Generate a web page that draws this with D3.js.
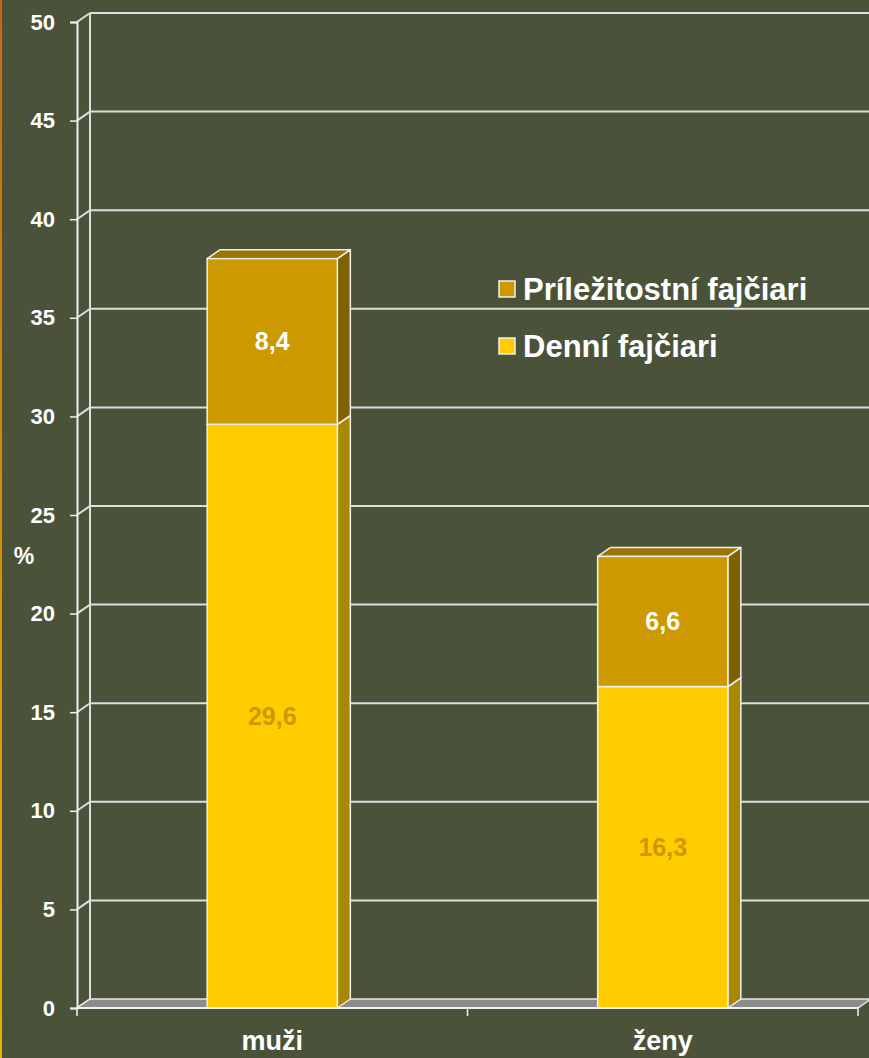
<!DOCTYPE html>
<html>
<head>
<meta charset="utf-8">
<script src="https://cdn.jsdelivr.net/npm/d3@7"></script>
<style>
  html, body { margin: 0; padding: 0; background: #4a533a; }
  svg { display: block; font-family: "Liberation Sans", Arial, sans-serif; }
</style>
</head>
<body>
<div id="chart"></div>
<script>
// chart values
const categories = ['muži', 'ženy'];
const dailySmokers = [29.6, 16.3];      // Denní fajčiari
const occasionalSmokers = [8.4, 6.6];   // Príležitostní fajčiari
const yTicks = [0, 5, 10, 15, 20, 25, 30, 35, 40, 45, 50];
const seriesNames = ['Denní fajčiari', 'Príležitostní fajčiari'];
const legendOrder = ['Príležitostní fajčiari', 'Denní fajčiari'];

const width = 869, height = 1058;
const depthX = 13, depthY = -9; // 3d offset of the back wall

const svg = d3.select('#chart').append('svg')
    .attr('width', width)
    .attr('height', height);

// orange stripe on the left edge
const grad = svg.append('defs').append('linearGradient')
    .attr('id', 'edge').attr('x1', 0).attr('y1', 0).attr('x2', 0).attr('y2', 1);
grad.append('stop').attr('offset', '0%').attr('stop-color', '#c86a10');
grad.append('stop').attr('offset', '100%').attr('stop-color', '#e8b000');
svg.append('rect').attr('x', 0).attr('y', 0).attr('width', 2).attr('height', height)
    .attr('fill', 'url(#edge)');

const yScale = d3.scaleLinear().domain([0, 50]).range([1008, 22]);
const xScale = d3.scaleBand().domain(categories).range([77, 858]).padding(0);
const bw = xScale.bandwidth() / 3;

const gridColor = '#dedede';

// back wall grid lines + side wall diagonals
const grid = svg.append('g');
yTicks.forEach(t => {
    const y = yScale(t);
    if (t > 0) {
        grid.append('line')
            .attr('x1', 77 + depthX).attr('x2', width + 5)
            .attr('y1', y + depthY).attr('y2', y + depthY)
            .attr('stroke', gridColor).attr('stroke-width', 2);
    }
    grid.append('line')
        .attr('x1', 77).attr('y1', y)
        .attr('x2', 77 + depthX).attr('y2', y + depthY)
        .attr('stroke', gridColor).attr('stroke-width', 2);
});
// back wall left edge
grid.append('line')
    .attr('x1', 77 + depthX).attr('x2', 77 + depthX)
    .attr('y1', yScale(50) + depthY).attr('y2', yScale(0) + depthY)
    .attr('stroke', gridColor).attr('stroke-width', 2);

// floor
const [fx0, fx1] = xScale.range();
const f0 = yScale(0);
svg.append('polygon')
    .attr('points', [[fx0, f0], [fx1, f0], [fx1 + depthX, f0 + depthY], [fx0 + depthX, f0 + depthY]].join(' '))
    .attr('fill', '#8c8c8c')
    .attr('stroke', '#e6e6e6').attr('stroke-width', 1.5);

// stacked bars
const rows = categories.map((c, i) => ({cat: c, 'Denní fajčiari': dailySmokers[i], 'Príležitostní fajčiari': occasionalSmokers[i]}));
const stack = d3.stack().keys(seriesNames)(rows);

const colors = {
    'Denní fajčiari': {front: '#ffcc00', side: '#a88800', top: '#c8a000', label: '#cc9900'},
    'Príležitostní fajčiari': {front: '#cc9900', side: '#7f6200', top: '#9a7500', label: '#ffffff'}
};

const bars = svg.append('g');
stack.forEach(layer => {
    const col = colors[layer.key];
    layer.forEach(d => {
        const x0 = xScale(d.data.cat) + bw;
        const x1 = x0 + bw;
        const yb = yScale(d[0]), yt = yScale(d[1]);
        const g = bars.append('g');
        // side face
        g.append('polygon')
            .attr('points', [[x1, yb], [x1, yt], [x1 + depthX, yt + depthY], [x1 + depthX, yb + depthY]].join(' '))
            .attr('fill', col.side).attr('stroke', '#f0f0f0').attr('stroke-width', 1.5)
            .attr('stroke-linejoin', 'round');
        // top face
        g.append('polygon')
            .attr('points', [[x0, yt], [x1, yt], [x1 + depthX, yt + depthY], [x0 + depthX, yt + depthY]].join(' '))
            .attr('fill', col.top).attr('stroke', '#f0f0f0').attr('stroke-width', 1.5)
            .attr('stroke-linejoin', 'round');
        // front face
        g.append('rect')
            .attr('x', x0).attr('y', yt)
            .attr('width', bw).attr('height', yb - yt)
            .attr('fill', col.front).attr('stroke', '#f0f0f0').attr('stroke-width', 1.5);
        // value label
        g.append('text')
            .attr('x', (x0 + x1) / 2).attr('y', (yb + yt) / 2)
            .attr('dy', '0.36em')
            .attr('text-anchor', 'middle')
            .attr('font-size', 25).attr('font-weight', 'bold')
            .attr('fill', col.label)
            .text(d3.format('.1f')(d[1] - d[0]).replace('.', ','));
    });
});

// y axis (front)
const yAxis = svg.append('g')
    .attr('transform', 'translate(77,0)')
    .call(d3.axisLeft(yScale).tickValues(yTicks).tickSize(7).tickPadding(15));
yAxis.select('.domain').attr('stroke', '#f0f0f0').attr('stroke-width', 2);
yAxis.selectAll('.tick line').attr('stroke', '#f0f0f0').attr('stroke-width', 1.5);
yAxis.selectAll('.tick text')
    .attr('fill', '#ffffff').attr('font-size', 22).attr('font-weight', 'bold')
    .attr('font-family', '"Liberation Sans", Arial, sans-serif');

// x axis line and ticks at band edges
svg.append('line')
    .attr('x1', fx0).attr('x2', fx1).attr('y1', f0).attr('y2', f0)
    .attr('stroke', '#f0f0f0').attr('stroke-width', 2);
const edges = categories.map(c => xScale(c)).concat([fx1]);
svg.selectAll('.xtick').data(edges).enter().append('line')
    .attr('x1', d => d).attr('x2', d => d)
    .attr('y1', f0).attr('y2', f0 + 8)
    .attr('stroke', '#f0f0f0').attr('stroke-width', 1.5);

svg.selectAll('.xlabel').data(categories).enter().append('text')
    .attr('x', d => xScale(d) + xScale.bandwidth() / 2)
    .attr('y', 1050)
    .attr('text-anchor', 'middle')
    .attr('font-size', 27).attr('font-weight', 'bold')
    .attr('fill', '#ffffff')
    .text(d => d);

// y axis title
svg.append('text')
    .attr('x', 24).attr('y', 564)
    .attr('text-anchor', 'middle')
    .attr('font-size', 23).attr('font-weight', 'bold')
    .attr('fill', '#ffffff')
    .text('%');

// legend
const legend = svg.append('g').attr('transform', 'translate(499,281)');
legendOrder.forEach((name, i) => {
    const g = legend.append('g').attr('transform', `translate(0,${i * 57})`);
    g.append('rect')
        .attr('x', 0).attr('y', 0).attr('width', 16).attr('height', 16)
        .attr('fill', colors[name].front)
        .attr('stroke', '#f0f0f0').attr('stroke-width', 1.5);
    g.append('text')
        .attr('x', 24).attr('y', 8)
        .attr('dy', '0.36em')
        .attr('font-size', 31).attr('font-weight', 'bold')
        .attr('fill', '#ffffff')
        .text(name);
});
</script>
</body>
</html>
